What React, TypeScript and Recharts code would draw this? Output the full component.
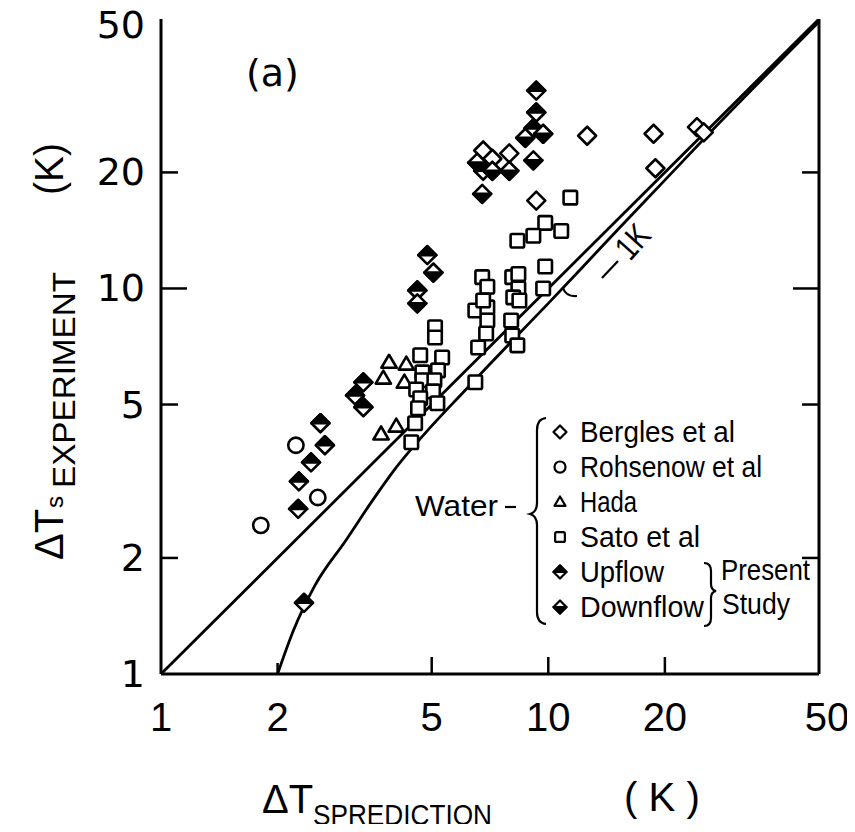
import { ReferenceLine, Scatter, ScatterChart, XAxis, YAxis } from "recharts";

const xTicks = [1, 2, 5, 10, 20, 50];
const yTicks = [1, 2, 5, 10, 20, 50];

const bergles: [number, number][] = [
  [6.79, 22.8], [7.17, 21.7], [7.93, 22.4], [12.6, 24.9], [18.7, 25.2],
  [24.2, 26.2], [25.2, 25.4], [18.9, 20.5], [9.31, 16.9],
];
const rohsenow: [number, number][] = [[2.23, 3.92], [2.54, 2.87], [1.81, 2.43]];
const hada: [number, number][] = [
  [3.88, 6.43], [4.3, 6.36], [3.75, 5.85], [4.25, 5.71], [4.05, 4.39], [3.7, 4.19],
];
const sato: [number, number][] = [
  [5.1, 7.93], [5.1, 7.46], [4.67, 6.71], [5.32, 6.62], [4.73, 6.06], [5.19, 6.13],
  [4.73, 5.78], [5.08, 5.78], [4.56, 5.47], [5.04, 5.41], [4.67, 5.19], [5.17, 5.04],
  [4.61, 4.89], [4.53, 4.47], [4.43, 3.99],
  [6.75, 10.7], [6.96, 10.1], [6.48, 8.77], [6.96, 8.93], [6.79, 9.31], [6.96, 8.26],
  [6.91, 7.64], [6.59, 7.03], [6.48, 5.71],
  [8.07, 10.7], [8.37, 10.9], [8.37, 10.0], [8.12, 9.48], [8.42, 9.31], [8.02, 8.26],
  [8.07, 7.55], [8.32, 7.12],
  [11.4, 17.2], [9.82, 14.8], [10.8, 14.1], [9.15, 13.7], [8.32, 13.3], [9.82, 11.4], [9.7, 10.0],
];
const upflow: [number, number][] = [
  [2.58, 4.47], [2.65, 3.92], [2.44, 3.54], [2.27, 3.16], [2.26, 2.68], [2.34, 1.53],
  [3.33, 5.71], [3.17, 5.28], [3.33, 4.92], [4.87, 12.2], [4.59, 9.88],
  [9.31, 32.6], [9.31, 28.6], [9.15, 26.0], [6.79, 20.2],
];
const downflow: [number, number][] = [
  [5.05, 11.0], [4.59, 9.15], [8.72, 24.6], [9.7, 25.2], [9.15, 21.5],
  [6.55, 21.2], [7.17, 20.2], [7.93, 20.2], [6.75, 17.6],
];

const diagonal: [number, number][] = [[1, 1], [50, 50]];
const offsetCurve: [number, number][] = [
  [2.0, 1.0], [2.2, 1.3], [2.5, 1.7], [3.0, 2.22], [3.5, 2.8], [4.0, 3.38], [5.0, 4.4],
  [6.0, 5.35], [7.0, 6.3], [8.0, 7.25], [10, 9.15], [12, 11.1], [15, 14.1],
  [20, 19.1], [25, 24.2], [50, 49.2],
];

const toPts = (arr: [number, number][]) => arr.map(([x, y]) => ({ x, y }));

// the wrapper is pulled over the body margin, so overlay coordinates are page pixels
const W = 855;
const H = 832;
const MARGIN = { top: 19, right: 36, left: 101, bottom: 98 };
const Y_AXIS_W = 60;
const X_AXIS_H = 60;
const PLOT_W = W - MARGIN.left - Y_AXIS_W - MARGIN.right;
const TICK_GAP = 16;
const INK = "#000";

type Kind = "bergles" | "rohsenow" | "hada" | "sato" | "upflow" | "downflow";

function Marker({ kind, cx, cy, s }: { kind: Kind; cx: number; cy: number; s: number }) {
  const sw = s > 7 ? 2.6 : 2.2;
  const diamond = `${cx},${cy - s} ${cx + s},${cy} ${cx},${cy + s} ${cx - s},${cy}`;
  switch (kind) {
    case "bergles":
      return <polygon points={diamond} fill="#fff" stroke={INK} strokeWidth={sw} strokeLinejoin="round" />;
    case "rohsenow":
      return <circle cx={cx} cy={cy} r={s * 0.85} fill="#fff" stroke={INK} strokeWidth={sw} />;
    case "hada": {
      const h = s * 0.85;
      return (
        <polygon
          points={`${cx},${cy - h} ${cx + h},${cy + h * 0.7} ${cx - h},${cy + h * 0.7}`}
          fill="#fff"
          stroke={INK}
          strokeWidth={sw}
          strokeLinejoin="round"
        />
      );
    }
    case "sato": {
      const h = s * 0.75;
      return (
        <rect x={cx - h} y={cy - h} width={2 * h} height={2 * h} rx={1.5} fill="#fff" stroke={INK} strokeWidth={sw} />
      );
    }
    case "upflow":
    case "downflow": {
      const half =
        kind === "upflow"
          ? `${cx},${cy - s} ${cx + s},${cy} ${cx - s},${cy}`
          : `${cx - s},${cy} ${cx + s},${cy} ${cx},${cy + s}`;
      return (
        <g>
          <polygon points={diamond} fill="#fff" stroke={INK} strokeWidth={sw} strokeLinejoin="round" />
          <polygon points={half} fill={INK} stroke={INK} strokeWidth={sw} strokeLinejoin="round" />
        </g>
      );
    }
  }
}

function YTick(props: any) {
  const { x, y, payload } = props;
  const v = payload.value as number;
  const ax = x + TICK_GAP;
  const len = v === 10 ? 26 : 17;
  const inner = v > 1 && v < 50;
  return (
    <g>
      {inner && <line x1={ax} x2={ax + len} y1={y} y2={y} stroke={INK} strokeWidth={2.5} />}
      {inner && <line x1={ax + PLOT_W - len} x2={ax + PLOT_W} y1={y} y2={y} stroke={INK} strokeWidth={2.5} />}
      <text x={x} y={y + (v === 50 ? 19 : 13)} textAnchor="end" fontFamily="DejaVu Sans" fontSize={38} fill={INK}>
        {v}
      </text>
    </g>
  );
}

function XTick(props: any) {
  const { x, y, payload } = props;
  const v = payload.value as number;
  const ay = y - TICK_GAP;
  const len = v === 2 ? 11 : 17;
  const inner = v > 1 && v < 50;
  return (
    <g>
      {inner && <line x1={x} x2={x} y1={ay} y2={ay - len} stroke={INK} strokeWidth={2.5} />}
      <text x={x + (v === 50 ? 8 : 0)} y={ay + 57} textAnchor="middle" fontFamily="Liberation Sans" fontSize={40} fill={INK}>
        {v}
      </text>
    </g>
  );
}

const noMarker = () => <g />;

const legendRows: { kind: Kind; label: string; w: number }[] = [
  { kind: "bergles", label: "Bergles et al", w: 155 },
  { kind: "rohsenow", label: "Rohsenow et al", w: 182 },
  { kind: "hada", label: "Hada", w: 57 },
  { kind: "sato", label: "Sato et al", w: 120 },
  { kind: "upflow", label: "Upflow", w: 84 },
  { kind: "downflow", label: "Downflow", w: 124 },
];

const narrow = { fontFamily: "Liberation Sans", fontSize: 29, fill: INK, lengthAdjust: "spacingAndGlyphs" as const };

function Overlay() {
  return (
    <svg width={W} height={H} style={{ position: "absolute", left: 0, top: 0, pointerEvents: "none" }}>
      <text x={246} y={86} fontFamily="DejaVu Sans" fontSize={38} fill={INK}>(a)</text>

      {/* legend */}
      <path
        d="M546,418 Q537,419 537,430 L537,503 Q537,512 530,514 Q537,516 537,525 L537,612 Q537,623 546,624"
        fill="none"
        stroke={INK}
        strokeWidth={2.2}
      />
      {legendRows.map((r, i) => {
        const cy = 432 + i * 35;
        return (
          <g key={r.label}>
            <Marker kind={r.kind} cx={560} cy={cy} s={6.5} />
            <text x={580} y={cy + 10} textLength={r.w} {...narrow}>{r.label}</text>
          </g>
        );
      })}
      <text x={415} y={516} textLength={83} {...narrow}>Water</text>
      <line x1={505} x2={516} y1={507} y2={507} stroke={INK} strokeWidth={2.2} />
      <path
        d="M704,563 Q711,563 711,571 L711,584 Q711,590 716,591 Q711,592 711,598 L711,618 Q711,626 704,626"
        fill="none"
        stroke={INK}
        strokeWidth={2.2}
      />
      <text x={721} y={580} textLength={89} {...narrow}>Present</text>
      <text x={722} y={614} textLength={68} {...narrow}>Study</text>

      {/* 1K gap marker */}
      <path d="M563,288 Q566,297 577,296" fill="none" stroke={INK} strokeWidth={2.2} />
      <line x1={602} y1={278} x2={618} y2={261} stroke={INK} strokeWidth={2.2} />
      <text
        transform="translate(630,262) rotate(-48)"
        fontFamily="Liberation Sans"
        fontSize={34}
        fill={INK}
        textLength={34}
        lengthAdjust="spacingAndGlyphs"
      >
        1K
      </text>

      {/* axis titles */}
      <text x={262} y={813} fontFamily="Liberation Sans" fontSize={40} fill={INK}>ΔT</text>
      <text x={313} y={825} textLength={179} fontFamily="Liberation Sans" fontSize={29} fill={INK} lengthAdjust="spacingAndGlyphs">
        SPREDICTION
      </text>
      <text x={624} y={811} textLength={76} fontFamily="Liberation Sans" fontSize={40} fill={INK} lengthAdjust="spacingAndGlyphs">
        ( K )
      </text>

      <g transform="translate(63,560) rotate(-90)">
        <text x={0} y={0} fontFamily="Liberation Sans" fontSize={40} fill={INK}>ΔT</text>
        <text x={52} y={0} fontFamily="Liberation Sans" fontSize={24} fill={INK}>s</text>
        <text x={72} y={12} textLength={216} fontFamily="Liberation Sans" fontSize={32} fill={INK} lengthAdjust="spacingAndGlyphs">
          EXPERIMENT
        </text>
        <text x={365} y={0} textLength={52} fontFamily="Liberation Sans" fontSize={40} fill={INK} lengthAdjust="spacingAndGlyphs">
          (K)
        </text>
      </g>
    </svg>
  );
}

export default function App() {
  const series: { kind: Kind; data: [number, number][] }[] = [
    { kind: "bergles", data: bergles },
    { kind: "rohsenow", data: rohsenow },
    { kind: "hada", data: hada },
    { kind: "sato", data: sato },
    { kind: "upflow", data: upflow },
    { kind: "downflow", data: downflow },
  ];

  return (
    <div style={{ position: "relative", width: W, height: H, margin: -8, background: "#fff" }}>
      <ScatterChart width={W} height={H} margin={MARGIN}>
        <XAxis
          dataKey="x"
          type="number"
          scale="log"
          domain={[1, 50]}
          ticks={xTicks}
          interval={0}
          allowDataOverflow
          height={X_AXIS_H}
          tickSize={0}
          tickMargin={TICK_GAP}
          tickLine={false}
          axisLine={{ stroke: INK, strokeWidth: 3 }}
          tick={(p: any) => <XTick {...p} />}
        />
        <YAxis
          dataKey="y"
          type="number"
          scale="log"
          domain={[1, 50]}
          ticks={yTicks}
          interval={0}
          allowDataOverflow
          width={Y_AXIS_W}
          tickSize={0}
          tickMargin={TICK_GAP}
          tickLine={false}
          axisLine={{ stroke: INK, strokeWidth: 3 }}
          tick={(p: any) => <YTick {...p} />}
        />
        <ReferenceLine x={50} stroke={INK} strokeWidth={3} />
        <Scatter
          data={toPts(diagonal)}
          line={{ stroke: INK, strokeWidth: 2.8 }}
          shape={noMarker}
          isAnimationActive={false}
        />
        <Scatter
          data={toPts(offsetCurve)}
          line={{ stroke: INK, strokeWidth: 2.8 }}
          lineJointType="monotoneX"
          shape={noMarker}
          isAnimationActive={false}
        />
        {series.map((s) => (
          <Scatter
            key={s.kind}
            data={toPts(s.data)}
            isAnimationActive={false}
            shape={(p: any) => <Marker kind={s.kind} cx={p.cx} cy={p.cy} s={9} />}
          />
        ))}
      </ScatterChart>
      <Overlay />
    </div>
  );
}
